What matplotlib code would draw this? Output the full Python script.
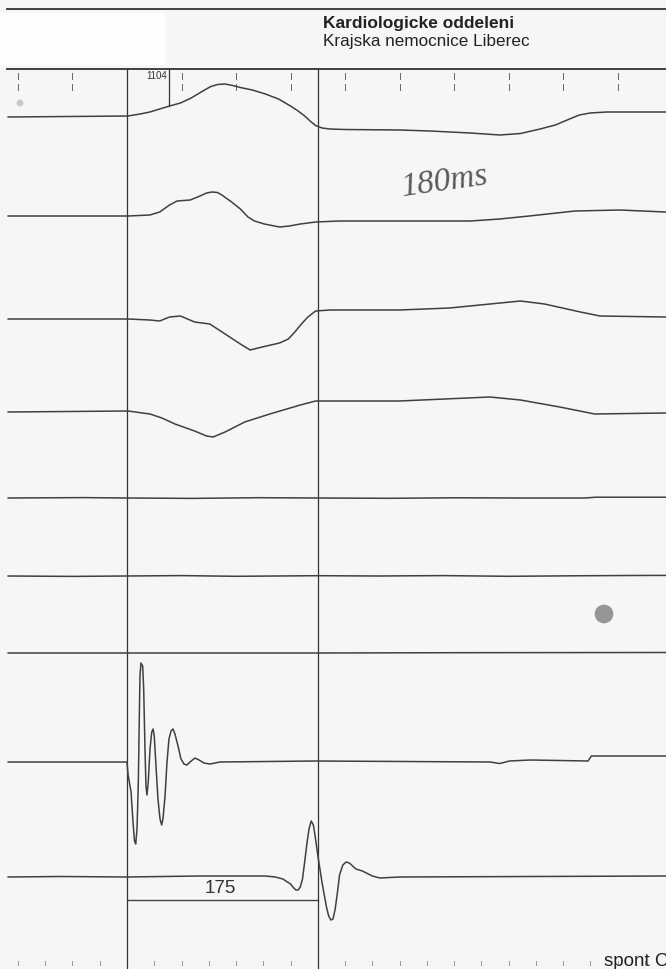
import numpy as np
import matplotlib
matplotlib.use('Agg')
import matplotlib.pyplot as plt

plt.rcParams['font.family'] = ['Liberation Sans', 'DejaVu Sans']

# --- geometry of the strip: px per ms, cursor at 0 ms ---
PX_MS = 1.09
X0 = 127  # pixel of t = 0

# --- channel traces: time (ms) and deflection (up positive, px) ---
ch1_t = [-109, 1, 12, 21, 30, 39, 49, 58, 65, 72, 77, 83, 90, 97, 104, 115, 127, 139, 150, 157, 163,
         168, 173, 179, 186, 200, 250, 278, 315, 342, 361, 379, 393, 406, 415, 425, 440, 494]
ch1_a = [0, 1, 3, 5, 8, 11, 14, 18.5, 23, 27.5, 30.5, 32.5, 33, 31.5, 29.5, 27, 23, 18, 11, 6, 1,
         -4, -8.5, -11, -12, -12.5, -13, -14, -16, -18, -16.5, -12, -8, -2, 2, 4, 5, 5]

ch2_t = [-109, 1, 21, 30, 39, 46, 58, 67, 73, 78, 83, 87, 96, 104, 111, 117, 126, 140, 149, 159, 173,
         195, 315, 342, 369, 411, 452, 494]
ch2_a = [0, 0, 1, 4, 11, 15, 16, 20, 23, 24, 23.5, 21, 14, 7, -1, -5, -8, -11, -10, -8, -6,
         -5, -5, -3, 0, 5, 6, 4]

ch3_t = [-109, 1, 21, 30, 39, 49, 62, 76, 90, 104, 113, 124, 140, 148, 154, 160, 166, 173, 186, 250,
         296, 333, 361, 383, 416, 434, 494]
ch3_a = [0, 0, -1, -2, 2, 3, -3, -5, -15, -25, -31, -28, -24, -20, -13, -5, 2, 8, 9, 9,
         11, 15, 18, 15, 7, 3, 2]

ch4_t = [-109, 1, 21, 32, 44, 62, 73, 79, 90, 108, 131, 159, 173, 250, 333, 361, 397, 429, 494]
ch4_a = [0, 1, -2, -6, -12, -19, -24, -25, -20, -10, -2, 7, 11, 11, 15, 12, 5, -2, -1]

ch5_t = [-109, -40, 0, 60, 120, 175, 240, 300, 360, 420, 430, 494]
ch5_a = [0, 0.4, 0, -0.4, 0.3, 0, -0.3, 0.2, 0, 0, 0.8, 0.8]

ch6_t = [-109, -50, 0, 50, 100, 175, 230, 290, 350, 410, 460, 494]
ch6_a = [0, -0.4, 0, 0.4, -0.3, 0.3, 0, 0.4, -0.3, 0.2, 0.5, 0.6]

ch7_t = [-109, 0, 175, 300, 494]
ch7_a = [0, 0, 0, 0.3, 0.5]

ch8_t = [-109, 0, 0.9, 3.7, 5.5, 6.9, 8.0, 9.2, 10.4, 11.3, 11.9, 12.8, 14.4, 15.3, 16.5, 17.4, 18.3,
         19.5, 21.1, 22.7, 23.9, 25.0, 26.6, 28.4, 30.3, 31.8, 33.0, 34.9, 36.7, 38.5, 40.4, 42.2,
         44.0, 46.8, 49.5, 52.3, 55.0, 57.8, 62.4, 66.1, 70.6, 76.1, 85.3, 173, 333, 342, 351, 370,
         423, 426, 494]
ch8_a = [0, 0, -12, -30, -60, -79, -82, -67, -20, 46, 86, 99, 96, 73, 13, -24, -33,
         -20, 13, 30, 33, 26, -4, -37, -57, -63, -57, -34, 0, 23, 31, 33,
         28, 16, 3, -2, -3, 0, 4, 2, -1, -2, 0, 1, 0, -1.5, 1, 2,
         1, 6, 6]

ch9_t = [-109, -61, 0, 67, 127, 136, 143, 150, 153, 155, 157, 159, 161, 163, 165, 167, 169, 171,
         173, 175, 177, 179, 181, 183, 185, 187, 189, 191, 193, 195, 198, 201, 204, 207, 210, 216,
         225, 232, 250, 494]
ch9_a = [0, 0.5, 0, 1, 1, 0, -2, -7, -11, -13, -13, -10, -2, 15, 33, 48, 56, 52,
         38, 22, 8, -6, -18, -30, -39, -43, -42, -32, -16, 2, 12, 15, 14, 11, 8, 6,
         1, -1, 0, 1]

channels = [(ch1_t, ch1_a), (ch2_t, ch2_a), (ch3_t, ch3_a), (ch4_t, ch4_a), (ch5_t, ch5_a),
            (ch6_t, ch6_a), (ch7_t, ch7_a), (ch8_t, ch8_a), (ch9_t, ch9_a)]
baselines = [118, 217, 320, 413, 499, 577, 654, 763, 878]

cursor_t = [0, 175]
marker_t = 38.5
interval_ms = 175
grid_ticks = list(range(-100, 451, 50))

fig = plt.figure(figsize=(6.66, 9.70), dpi=100, facecolor='#f6f6f6')
ax = fig.add_axes([0, 0, 1, 1])
ax.set_facecolor('#f6f6f6')
xmin = -X0 / PX_MS
xmax = (666 - X0) / PX_MS
ax.set_xlim(xmin, xmax)
ax.set_ylim(970, 0)
ax.axis('off')

# white label box at top left
ax.fill_between([xmin, (165 - X0) / PX_MS], 14, 66, color='#fefefe', lw=0)

# header lines
xl = (7 - X0) / PX_MS
ax.plot([xl, xmax], [10, 10], color='#333333', lw=1.3)
ax.plot([xl, xmax], [70, 70], color='#333333', lw=1.3)
ax.text((323 - X0) / PX_MS, 28, 'Kardiologicke oddeleni', fontsize=12.5, fontweight='bold',
        color='#222222', ha='left', va='baseline')
ax.text((323 - X0) / PX_MS, 46, 'Krajska nemocnice Liberec', fontsize=12.3, color='#222222',
        ha='left', va='baseline')

# time ticks under the header
for t in grid_ticks:
    ax.plot([t, t], [74, 80], color='#666666', lw=0.7)
    ax.plot([t, t], [85, 91], color='#666666', lw=0.7)
for t in range(-100, 500, 25):
    ax.plot([t, t], [962, 966], color='#888888', lw=0.6)

# cursors
for t in cursor_t:
    ax.plot([t, t], [70, 970], color='#333333', lw=0.9)
ax.plot([marker_t, marker_t], [70, 107], color='#333333', lw=0.9)
ax.text(marker_t - 2, 79, '1104', fontsize=7, color='#333333', ha='right', va='baseline')

# traces
for (t, a), b in zip(channels, baselines):
    ax.plot(t, b - np.array(a), color='#404040', lw=1.1)

# measured interval
ax.plot([cursor_t[0], cursor_t[1]], [901, 901], color='#444444', lw=1.0)
ax.text(86, 893, str(interval_ms), fontsize=13.5, color='#333333', ha='center', va='baseline')

# handwritten note and scan marks
ax.text((400 - X0) / PX_MS, 196, '180ms', fontsize=24, style='italic', family='Liberation Serif',
        color='#5a5a5a', ha='left', va='baseline', rotation=8)
ax.scatter([(604 - X0) / PX_MS], [615], s=180, color='#959595', edgecolors='none')
ax.scatter([(20 - X0) / PX_MS], [104], s=25, color='#c8c8c8', edgecolors='none')

# page label, cut at the right edge as on the scan
ax.text((604 - X0) / PX_MS, 966, 'spont C', fontsize=13.5, color='#222222', ha='left',
        va='baseline')

fig.savefig('out.png', dpi=100, facecolor=fig.get_facecolor())
